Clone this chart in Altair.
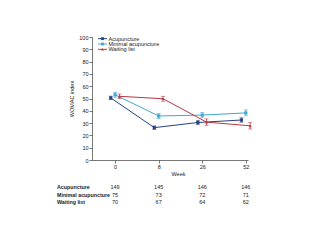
import json
import altair as alt
import pandas as pd

groups = ["Acupuncture", "Minimal acupuncture", "Waiting list"]
weeks = ["0", "8", "26", "52"]
acu_mean = [50.5, 26.3, 30.5, 32.5]
acu_err = [1.4, 1.4, 1.8, 1.8]
min_mean = [53.0, 35.8, 36.5, 38.3]
min_err = [2.0, 2.0, 2.2, 2.4]
wait_mean = [51.8, 49.8, 30.8, 27.8]
wait_err = [1.8, 2.0, 2.6, 2.6]
n_acu = [149, 145, 146, 146]
n_min = [75, 73, 72, 71]
n_wait = [70, 67, 64, 62]
y_ticks = [0, 10, 20, 30, 40, 50, 60, 70, 80, 90, 100]
colors = ["#27427f", "#3fa6d6", "#b9363f"]
shapes = ["square", "square", "triangle-up"]

rows = []
for g, means, errs, ns in zip(groups, [acu_mean, min_mean, wait_mean],
                              [acu_err, min_err, wait_err], [n_acu, n_min, n_wait]):
    for i, w in enumerate(weeks):
        rows.append({"group": g, "week": w, "idx": i, "mean": means[i],
                     "lo": means[i] - errs[i], "hi": means[i] + errs[i], "n": ns[i]})
df = pd.DataFrame(rows)
leg_df = pd.DataFrame({"group": groups})

FONT = "Liberation Sans"
label_expr = json.dumps(weeks) + "[datum.value]"
DODGE = 0.1  # small horizontal dodge between groups, in category steps

x_scale = alt.Scale(domain=[-0.53, 3.05], nice=False, zero=False)
x_axis = alt.Axis(values=list(range(len(weeks))), labelExpr=label_expr,
                  title="Week", grid=False, tickSize=3, labelPadding=1,
                  titlePadding=2, titleX=86, labelOverlap=False)
x_enc = alt.X("xd:Q", scale=x_scale, axis=x_axis)
y_scale = alt.Scale(domain=[0, 100], nice=False, zero=True)
y_axis = alt.Axis(values=y_ticks, title="WOMAC index", grid=False, tickSize=3,
                  labelPadding=1, titlePadding=4, labelOverlap=False, tickCount=11)
color_enc = alt.Color("group:N", scale=alt.Scale(domain=groups, range=colors), legend=None)
shape_enc = alt.Shape("group:N", scale=alt.Scale(domain=groups, range=shapes), legend=None)

base = alt.Chart(df).transform_calculate(
    xd=f"datum.idx + (indexof({json.dumps(groups)}, datum.group) - 1) * {DODGE}")
line = base.mark_line(strokeWidth=1).encode(
    x=x_enc, y=alt.Y("mean:Q", scale=y_scale, axis=y_axis),
    color=color_enc, detail="group:N")
err = base.mark_rule(strokeWidth=0.8).encode(
    x=x_enc, y=alt.Y("lo:Q", scale=y_scale, axis=y_axis), y2="hi:Q", color=color_enc)
cap_lo = base.mark_tick(size=4, thickness=0.8, orient="horizontal").encode(
    x=x_enc, y=alt.Y("lo:Q", scale=y_scale, axis=y_axis), color=color_enc)
cap_hi = base.mark_tick(size=4, thickness=0.8, orient="horizontal").encode(
    x=x_enc, y=alt.Y("hi:Q", scale=y_scale, axis=y_axis), color=color_enc)
pts = base.mark_point(filled=True, size=10, opacity=1).encode(
    x=x_enc, y=alt.Y("mean:Q", scale=y_scale, axis=y_axis),
    color=color_enc, shape=shape_enc)
main = alt.layer(line, err, cap_lo, cap_hi, pts)

# legend drawn from the group names
leg_y = alt.Y("group:N", scale=alt.Scale(domain=groups, range=[-1, 15], padding=0),
              axis=None)
leg_base = alt.Chart(leg_df)
leg_line = leg_base.mark_rule(strokeWidth=1).encode(
    x=alt.value(6), x2=alt.value(15), y=leg_y, color=color_enc)
leg_pt = leg_base.mark_point(filled=True, size=8, opacity=1).encode(
    x=alt.value(10.5), y=leg_y, color=color_enc, shape=shape_enc)
leg_txt = leg_base.mark_text(align="left", baseline="middle", fontSize=5.5,
                             font=FONT, color="#222").encode(
    x=alt.value(16.5), y=leg_y, text="group:N")
legend = alt.layer(leg_line, leg_pt, leg_txt)

# numbers-at-risk table
tab_y = alt.Y("group:N", scale=alt.Scale(domain=groups, range=[150, 165], padding=0),
              axis=None)
tab_nums = alt.Chart(df).mark_text(fontSize=5.5, font=FONT, color="#222",
                                   baseline="middle").encode(
    x=alt.X("idx:Q", scale=x_scale, axis=x_axis), y=tab_y, text="n:Q")
tab_lbl = leg_base.mark_text(align="left", baseline="middle", fontSize=5.3, font=FONT,
                             fontWeight=600, color="#222").encode(
    x=alt.value(-35), y=tab_y, text="group:N")
table = alt.layer(tab_nums, tab_lbl)

chart = alt.layer(main, legend, table).resolve_scale(y="independent").properties(
    width=156, height=123,
    autosize=alt.AutoSizeParams(type="none"),
    padding={"left": 92, "top": 37, "right": 72, "bottom": 80},
).configure_view(stroke=None).configure_axis(
    labelFont=FONT, titleFont=FONT, labelFontSize=5.5, titleFontSize=5.5,
    titleFontWeight="normal", labelColor="#222", titleColor="#222",
    domainColor="#555", tickColor="#555", domainWidth=0.8, tickWidth=0.8)

chart.save("out.html", embed_options={"renderer": "svg", "actions": False})
